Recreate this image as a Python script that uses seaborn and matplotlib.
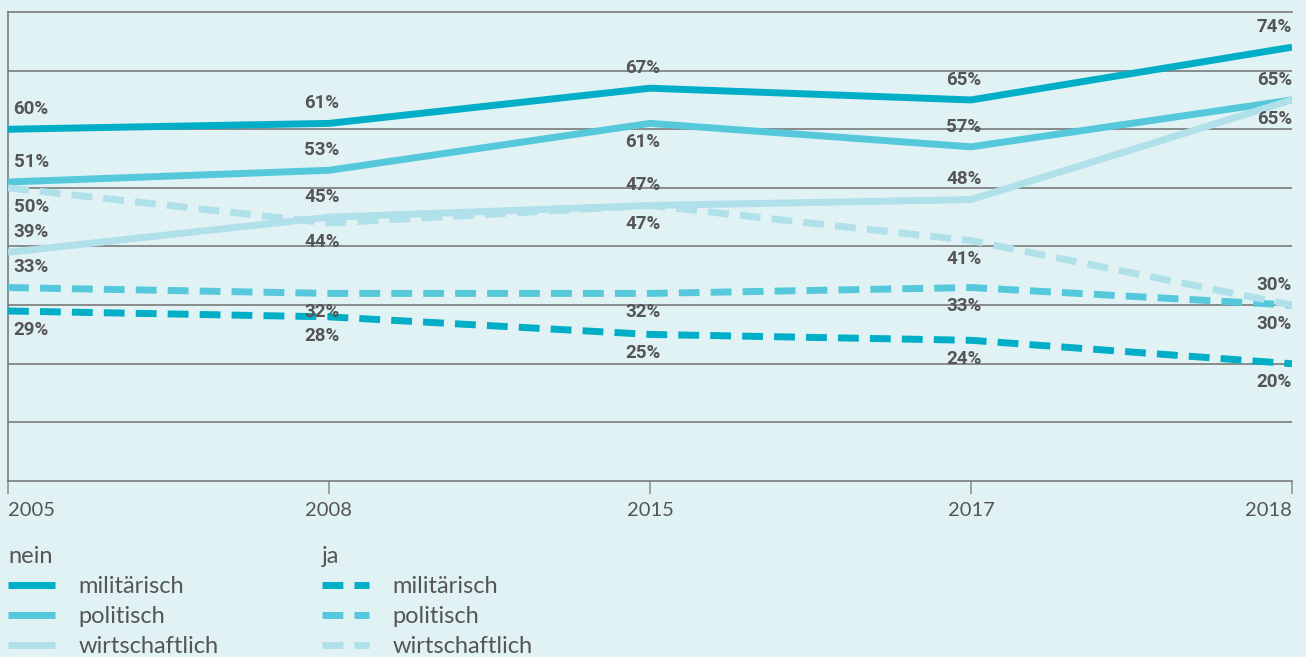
import pandas as pd
import seaborn as sns
from matplotlib import pyplot as plt
from matplotlib.lines import Line2D

# Data
years = ['2005', '2008', '2015', '2017', '2018']
kategorien = ['militärisch', 'politisch', 'wirtschaftlich']

# "nein" answers (solid lines)
nein_militaerisch = [60, 61, 67, 65, 74]
nein_politisch = [51, 53, 61, 57, 65]
nein_wirtschaftlich = [39, 45, 47, 48, 65]
# "ja" answers (dashed lines)
ja_militaerisch = [29, 28, 25, 24, 20]
ja_politisch = [33, 32, 32, 33, 30]
ja_wirtschaftlich = [50, 44, 47, 41, 30]

series = {
    ('nein', 'militärisch'): nein_militaerisch,
    ('nein', 'politisch'): nein_politisch,
    ('nein', 'wirtschaftlich'): nein_wirtschaftlich,
    ('ja', 'militärisch'): ja_militaerisch,
    ('ja', 'politisch'): ja_politisch,
    ('ja', 'wirtschaftlich'): ja_wirtschaftlich,
}

# where the value label sits: a = above the point, b = below
placement = {
    ('nein', 'militärisch'): 'aaaaa',
    ('nein', 'politisch'): 'aabaa',
    ('nein', 'wirtschaftlich'): 'aaaab',
    ('ja', 'militärisch'): 'bbbbb',
    ('ja', 'politisch'): 'abbbb',
    ('ja', 'wirtschaftlich'): 'bbbba',
}

colors = {'militärisch': '#00aec7', 'politisch': '#55c8dc', 'wirtschaftlich': '#b0e0ea'}
bg = '#e1f2f4'
grid_color = '#707070'
text_color = '#555555'

rows = []
for (antwort, kat), values in series.items():
    for i, v in enumerate(values):
        rows.append({'pos': i, 'jahr': years[i], 'wert': v, 'kategorie': kat, 'antwort': antwort})
df = pd.DataFrame(rows)

sns.set_style('white')
plt.rcParams['font.family'] = ['Lato', 'DejaVu Sans']
plt.rcParams['lines.solid_capstyle'] = 'butt'
plt.rcParams['lines.dash_capstyle'] = 'butt'

fig = plt.figure(figsize=(13.06, 6.57), dpi=100, facecolor=bg)
ax = fig.add_axes([8 / 1306, 1 - 481 / 657, (1292 - 8) / 1306, (481 - 12) / 657])
ax.set_facecolor(bg)

sns.lineplot(data=df, x='pos', y='wert', hue='kategorie', style='antwort',
             hue_order=kategorien, palette=colors,
             dashes={'nein': '', 'ja': (3, 1.6)}, linewidth=5,
             legend=False, ax=ax, zorder=3)

# value labels
for key, values in series.items():
    for i, v in enumerate(values):
        above = placement[key][i] == 'a'
        if i == 0:
            ha, dx = 'left', 4
        elif i == len(years) - 1:
            ha, dx = 'right', 0
        else:
            ha, dx = 'center', -5
        ax.annotate(f'{v}%', (i, v), xytext=(dx, 8 if above else -7),
                    textcoords='offset points', ha=ha,
                    va='bottom' if above else 'top',
                    family='Roboto', fontweight='bold', fontsize=13.5,
                    color=text_color, zorder=5)

ax.set_xlim(0, len(years) - 1)
ax.set_ylim(0, 80)
ax.set_yticks(range(10, 80, 10))
ax.yaxis.grid(True, color=grid_color, linewidth=1.1)
ax.tick_params(axis='y', left=False, labelleft=False)
ax.set_xticks(range(len(years)))
ax.set_xticklabels(years)
ax.tick_params(axis='x', bottom=True, length=9, width=1.1, color='#8a8a8a',
               pad=6, labelsize=14.5, labelcolor=text_color)
ax.get_xticklabels()[0].set_ha('left')
ax.get_xticklabels()[-1].set_ha('right')
ax.set_xlabel('')
ax.set_ylabel('')
for side in ['left', 'bottom', 'top']:
    ax.spines[side].set_visible(True)
    ax.spines[side].set_color(grid_color)
    ax.spines[side].set_linewidth(1.1)
ax.spines['right'].set_visible(False)

# two legends: nein (solid) and ja (dashed)
for antwort, x0 in [('nein', 8 / 1306), ('ja', 322 / 1306)]:
    handles = []
    for kat in kategorien:
        h = Line2D([], [], color=colors[kat], linewidth=5)
        if antwort == 'ja':
            h.set_dashes((3, 1.6))
        handles.append(h)
    leg = fig.legend(handles, kategorien, title=antwort, loc='upper left',
                     bbox_to_anchor=(x0, 1 - 546 / 657), frameon=False,
                     borderpad=0, borderaxespad=0, handlelength=2.0,
                     handletextpad=0.97, labelspacing=0.38, alignment='left',
                     prop={'family': 'Lato', 'size': 17},
                     title_fontproperties={'family': 'Lato', 'size': 17})
    leg.get_title().set_color(text_color)
    for t in leg.get_texts():
        t.set_color(text_color)

fig.savefig('out.png', dpi=100, facecolor=bg)
